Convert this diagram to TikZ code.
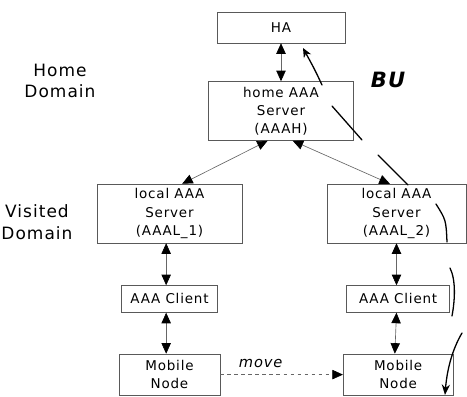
\documentclass[tikz,border=0pt]{standalone}
\usepackage{fontspec}
\setmainfont[LetterSpace=6]{DejaVu Sans}
\usetikzlibrary{arrows.meta, positioning}

\begin{document}
\begin{tikzpicture}[x=0.03cm, y=-0.03cm, text=black,
    >={Triangle[length=9pt, width=8pt, color=black]},
    box/.style={draw=black!65, rectangle, inner sep=0pt, align=center, font=\fontsize{11.5}{15.5}\selectfont},
    link/.style={<->, draw=black!60, line width=0.55pt},
    domlabel/.style={align=center, font=\fontsize{14.5}{18.5}\selectfont},
    bu/.style={line width=1.1pt, line cap=round}]
        \useasboundingbox (0,0) rectangle (467,397);

        % Dominio de origen
        \node[box, minimum width=3.84cm, minimum height=0.93cm] (ha) at (281,27.5) {HA};
        \node[box, minimum width=4.35cm, minimum height=1.77cm, below=1.14cm of ha] (aaah) {home AAA\\Server\\(AAAH)};
        \node[domlabel] (home) at (60,81) {Home\\Domain};

        % Dominio visitado
        \node[box, minimum width=4.35cm, minimum height=1.77cm] (aaal1) at (169.5,213.5) {local AAA\\Server\\(AAAL\_1)};
        \node[box, minimum width=4.17cm, minimum height=1.77cm] (aaal2) at (396.5,213.5) {local AAA\\Server\\(AAAL\_2)};
        \node[domlabel] (visited) at (37,222) {Visited\\Domain};

        \node[box, minimum width=2.88cm, minimum height=0.81cm, below=1.26cm of aaal1] (cl1) {AAA Client};
        \node[box, minimum width=3.09cm, minimum height=0.81cm, below=1.26cm of aaal2, xshift=0.05cm] (cl2) {AAA Client};
        \node[box, minimum width=3.03cm, minimum height=1.24cm, below=1.23cm of cl1] (mn1) {Mobile\\Node};
        \node[box, minimum width=3.3cm, minimum height=1.24cm, below=1.23cm of cl2] (mn2) {Mobile\\Node};

        % Conexiones
        \draw[link] (ha.south) -- (aaah.north);
        \draw[link] ([xshift=-0.4cm]aaah.south) -- ([xshift=0.38cm]aaal1.north);
        \draw[link] ([xshift=0.35cm]aaah.south) -- ([xshift=-0.2cm]aaal2.north);
        \draw[link] ([xshift=-0.1cm]aaal1.south) -- ([xshift=-0.1cm]cl1.north);
        \draw[link] ([xshift=-0.1cm]cl1.south) -- ([xshift=-0.1cm]mn1.north);
        \draw[link] (aaal2.south) -- ([xshift=-0.05cm]cl2.north);
        \draw[link] ([xshift=-0.05cm]cl2.south) -- ([xshift=-0.1cm]mn2.north);
        \draw[->, dashed, draw=black!60, line width=0.55pt] (mn1.east) -- node[pos=0.33, above=2pt, font=\fontsize{12.5}{14}\itshape] {move} (mn2.west);

        % Trazo a mano del BU
        \node[font=\fontsize{18}{20}\selectfont\bfseries\itshape] (bulabel) at (388,80) {BU};
        \draw[bu, -{Stealth[length=8pt, width=7pt]}] (322,85) .. controls (315,70) .. (303,48);
        \draw[bu] (332,106) -- (362,140);
        \draw[bu] (378,155) -- (408,185);
        \draw[bu] (436,204) .. controls (446,220) .. (447,242);
        \draw[bu] (450,268) .. controls (456,280) and (455,300) .. (452,316);
        \draw[bu, -{Stealth[length=9pt, width=7pt]}] (462,333) .. controls (452,350) and (447,370) .. (445,395);

    \end{tikzpicture}
\end{document}
